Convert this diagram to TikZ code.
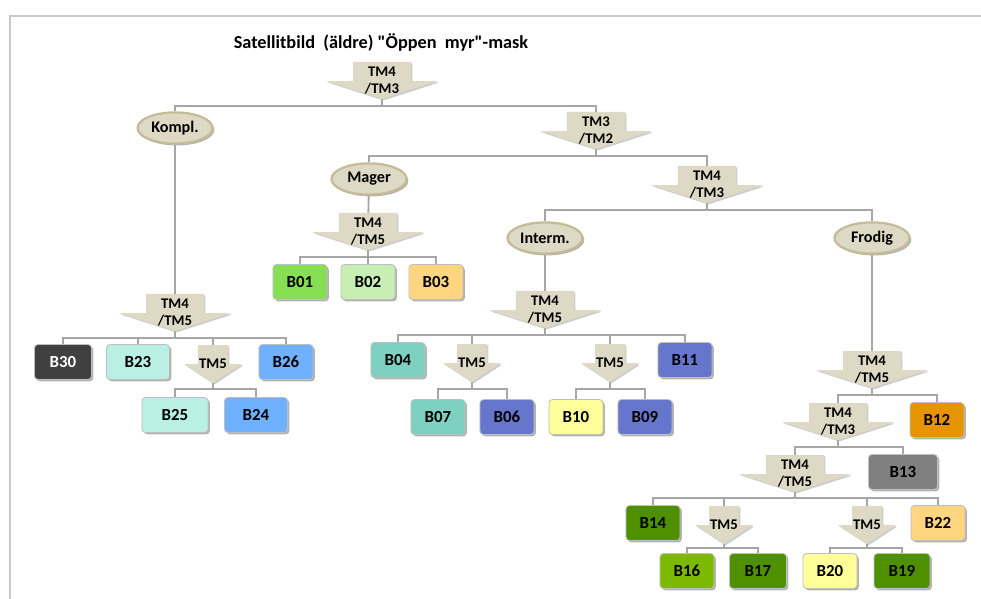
\documentclass[tikz,border=0pt]{standalone}
\usepackage{fontspec}
\setmainfont{Carlito}[Ligatures=TeXOff]
\usetikzlibrary{shapes.geometric,shadows}

\definecolor{linegray}{HTML}{A6A6A6}
\definecolor{framegray}{HTML}{C8C8C8}
\definecolor{tan}{HTML}{DDD9C4}
\definecolor{tanborder}{HTML}{C4BC96}
\definecolor{cB30}{HTML}{404040}
\definecolor{cAqua}{HTML}{B9F0E3}
\definecolor{cBlue}{HTML}{6FB0FF}
\definecolor{cB01}{HTML}{86DE52}
\definecolor{cB02}{HTML}{C8EEB4}
\definecolor{cPeach}{HTML}{FFD580}
\definecolor{cTeal}{HTML}{7ED0C0}
\definecolor{cSlate}{HTML}{6676CC}
\definecolor{cYellow}{HTML}{FFFF99}
\definecolor{cB12}{HTML}{E69500}
\definecolor{cB13}{HTML}{808080}
\definecolor{cDkGreen}{HTML}{4E9000}
\definecolor{cB16}{HTML}{7DB900}

\tikzset{
  conn/.style={draw=linegray, line width=1.3pt},
  softshadow/.style={drop shadow={shadow xshift=1.3pt, shadow yshift=-1.3pt, opacity=0.3, fill=black}},
  class/.style={rectangle, rounded corners=2.5pt, draw=black!25, line width=0.6pt,
    minimum width=1.35cm, minimum height=0.875cm, inner sep=0pt,
    font=\fontsize{12}{14}\selectfont\bfseries, softshadow, fill=#1},
  split/.style={ellipse, fill=tan, draw=tanborder, line width=1.6pt,
    minimum width=1.875cm, minimum height=0.78cm, inner sep=0pt,
    font=\fontsize{11.5}{13}\selectfont\bfseries, softshadow},
  tmshape/.style 2 args={
    path picture={
      \fill[tan, drop shadow={shadow xshift=1pt, shadow yshift=-1pt, opacity=0.2, fill=black}]
        ([xshift=-#1]path picture bounding box.north)
        -- ([xshift=#1]path picture bounding box.north)
        -- ([xshift=#1,yshift=-#2]path picture bounding box.north)
        -- ([yshift=-#2]path picture bounding box.north east)
        -- (path picture bounding box.south)
        -- ([yshift=-#2]path picture bounding box.north west)
        -- ([xshift=-#1,yshift=-#2]path picture bounding box.north)
        -- cycle;
    }},
  bigarrow/.style={tmshape={0.725cm}{0.475cm}, minimum width=2.8cm, minimum height=0.925cm,
    inner sep=0pt, align=center, font=\fontsize{10.5}{12}\selectfont\bfseries},
  smallarrow/.style={tmshape={0.375cm}{0.475cm}, minimum width=1.45cm, minimum height=0.95cm,
    inner sep=0pt, align=center, font=\fontsize{10.5}{12}\selectfont\bfseries},
  titletext/.style={font=\fontsize{13}{15}\selectfont\bfseries}
}

\begin{document}
\begin{tikzpicture}[x=0.025cm, y=-0.025cm]
  \useasboundingbox (0,0) rectangle (981,599);
  % ram
  \draw[framegray, line width=1.5pt] (10,599) -- (10,16) -- (981,16);

  % titel
  \node[titletext] (title) at (381,42) {Satellitbild\ \ (äldre) "Öppen\ \ myr"-mask};

  % pilar
  \node[bigarrow] (a1) at (382,80.5) {TM4\\/TM3};
  \node[bigarrow] (a2) at (596,130.5) {TM3\\/TM2};
  \node[bigarrow] (a3) at (368,231.5) {TM4\\/TM5};
  \node[bigarrow] (a4) at (707,184.5) {TM4\\/TM3};
  \node[bigarrow] (a5) at (545,309.5) {TM4\\/TM5};
  \node[smallarrow] (a6) at (472,363) {TM5};
  \node[smallarrow] (a7) at (610,363) {TM5};
  \node[bigarrow] (a8) at (175,312.5) {TM4\\/TM5};
  \node[smallarrow] (a9) at (213,364) {TM5};
  \node[bigarrow] (a10) at (872,369.5) {TM4\\/TM5};
  \node[bigarrow] (a11) at (838,421.5) {TM4\\/TM3};
  \node[bigarrow] (a12) at (795,473.5) {TM4\\/TM5};
  \node[smallarrow] (a13) at (724,525) {TM5};
  \node[smallarrow] (a14) at (867,525) {TM5};

  % ellipser
  \node[split] (kompl) at (175,128) {Kompl.};
  \node[split] (mager) at (369,179) {Mager};
  \node[split] (interm) at (545,238) {Interm.};
  \node[split] (frodig) at (872,238) {Frodig};

  % klasser
  \node[class=cB01] (B01) at (300,282) {B01};
  \node[class=cB02] (B02) at (368,282) {B02};
  \node[class=cPeach] (B03) at (436,282) {B03};
  \node[class=cB30, text=white, minimum width=1.425cm] (B30) at (63,362) {B30};
  \node[class=cAqua, minimum width=1.575cm] (B23) at (138,362) {B23};
  \node[class=cBlue] (B26) at (286,362) {B26};
  \node[class=cAqua, minimum width=1.65cm] (B25) at (175,415) {B25};
  \node[class=cBlue, minimum width=1.575cm] (B24) at (256,415) {B24};
  \node[class=cTeal] (B04) at (398,360) {B04};
  \node[class=cSlate] (B11) at (685,360) {B11};
  \node[class=cTeal] (B07) at (438,417) {B07};
  \node[class=cSlate] (B06) at (507,417) {B06};
  \node[class=cYellow] (B10) at (576,417) {B10};
  \node[class=cSlate] (B09) at (645,417) {B09};
  \node[class=cB12] (B12) at (937,420) {B12};
  \node[class=cB13, minimum width=1.725cm] (B13) at (903,472) {B13};
  \node[class=cDkGreen] (B14) at (653,523) {B14};
  \node[class=cPeach] (B22) at (938,523) {B22};
  \node[class=cB16] (B16) at (687,571) {B16};
  \node[class=cDkGreen, minimum width=1.425cm] (B17) at (758,571) {B17};
  \node[class=cYellow] (B20) at (830,571) {B20};
  \node[class=cDkGreen, minimum width=1.4cm] (B19) at (902,571) {B19};

  % kopplingar
  \draw[conn] (a1.south) -- ++(0,7) -| (kompl);
  \draw[conn] (a1.south) -- ++(0,7) -| (a2);
  \draw[conn] (a2.south) -- ++(0,7) -| (mager);
  \draw[conn] (a2.south) -- ++(0,7) -| (a4);
  \draw[conn] (mager) -- (a3);
  \draw[conn] (a3.south) -- ++(0,7) -| (B01);
  \draw[conn] (a3.south) -- ++(0,7) -| (B02);
  \draw[conn] (a3.south) -- ++(0,7) -| (B03);
  \draw[conn] (a4.south) -- ++(0,7) -| (interm);
  \draw[conn] (a4.south) -- ++(0,7) -| (frodig);
  \draw[conn] (kompl) -- (a8);
  \draw[conn] (a8.south) -- ++(0,7) -| (B30);
  \draw[conn] (a8.south) -- ++(0,7) -| (B23);
  \draw[conn] (a8.south) -- ++(0,7) -| (a9);
  \draw[conn] (a8.south) -- ++(0,7) -| (B26);
  \draw[conn] (a9.south) -- ++(0,6) -| (B25);
  \draw[conn] (a9.south) -- ++(0,6) -| (B24);
  \draw[conn] (interm) -- (a5);
  \draw[conn] (a5.south) -- ++(0,7) -| (B04);
  \draw[conn] (a5.south) -- ++(0,7) -| (a6);
  \draw[conn] (a5.south) -- ++(0,7) -| (a7);
  \draw[conn] (a5.south) -- ++(0,7) -| (B11);
  \draw[conn] (a6.south) -- ++(0,7) -| (B07);
  \draw[conn] (a6.south) -- ++(0,7) -| (B06);
  \draw[conn] (a7.south) -- ++(0,7) -| (B10);
  \draw[conn] (a7.south) -- ++(0,7) -| (B09);
  \draw[conn] (frodig) -- (a10);
  \draw[conn] (a10.south) -- ++(0,7) -| (a11);
  \draw[conn] (a10.south) -- ++(0,7) -| (B12);
  \draw[conn] (a11.south) -- ++(0,7) -| (a12);
  \draw[conn] (a11.south) -- ++(0,7) -| (B13);
  \draw[conn] (a12.south) -- ++(0,6) -| (B14);
  \draw[conn] (a12.south) -- ++(0,6) -| (a13);
  \draw[conn] (a12.south) -- ++(0,6) -| (a14);
  \draw[conn] (a12.south) -- ++(0,6) -| (B22);
  \draw[conn] (a13.south) -- ++(0,4) -| (B16);
  \draw[conn] (a13.south) -- ++(0,4) -| (B17);
  \draw[conn] (a14.south) -- ++(0,4) -| (B20);
  \draw[conn] (a14.south) -- ++(0,4) -| (B19);
\end{tikzpicture}
\end{document}
